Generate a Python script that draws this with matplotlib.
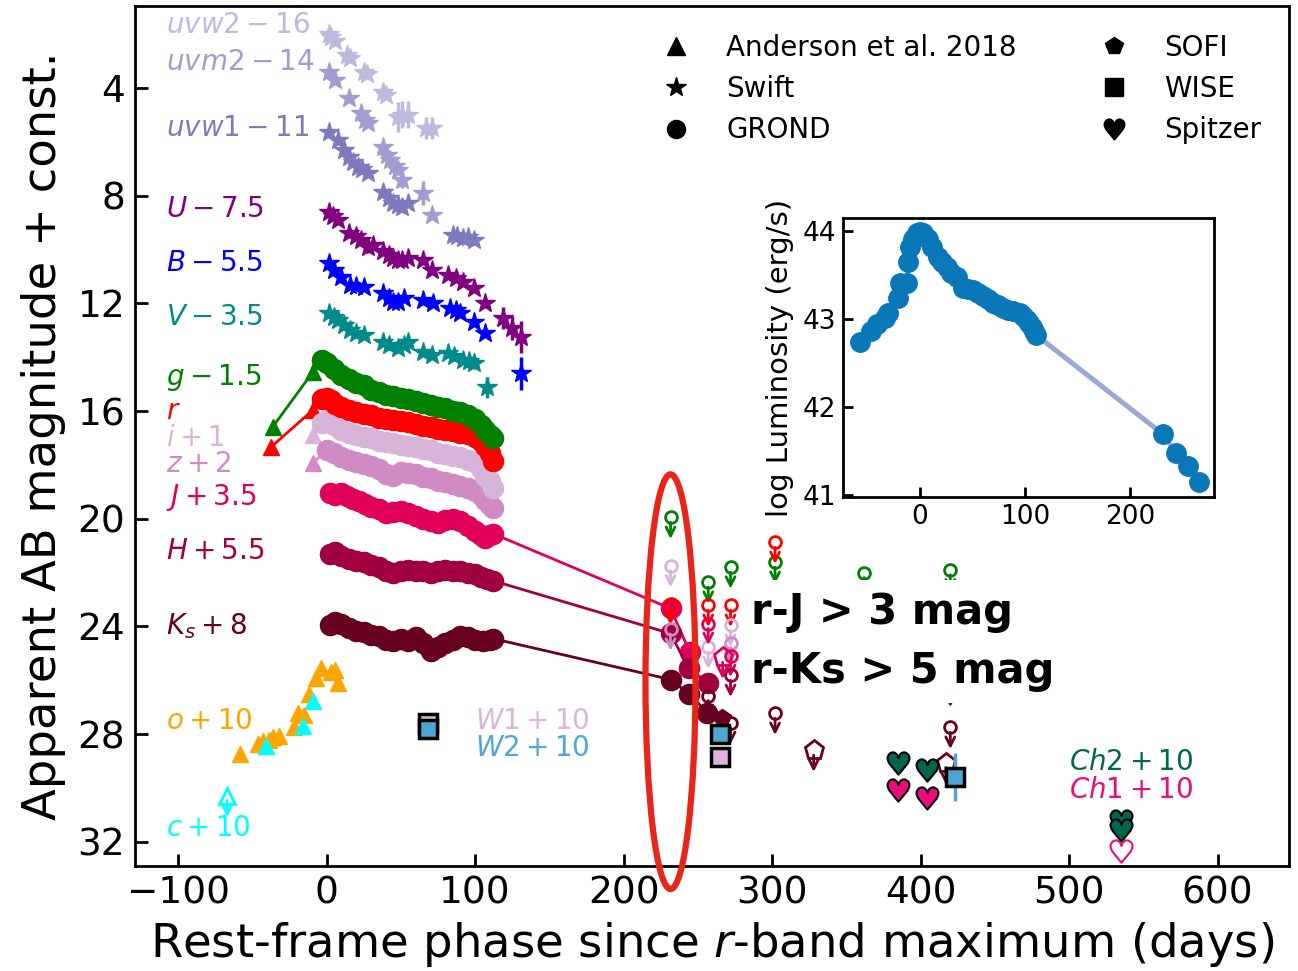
import matplotlib
matplotlib.use("Agg")
import matplotlib.pyplot as plt
from matplotlib.lines import Line2D
from matplotlib.patches import Ellipse
import numpy as np

plt.rcParams['font.family'] = ['DejaVu Sans']
plt.rcParams['mathtext.fontset'] = 'dejavusans'

HEART = '$\u2665$'

# ---------------- data (phase in days, magnitude + offset) ----------------
# Swift UV / optical (stars)
uvw2_t = [1.3, 2.7, 6, 14, 16, 25, 27, 38, 40, 48, 51, 55, 67, 71]
uvw2_m = [2.0, 2.1, 2.25, 2.77, 2.9, 3.4, 3.5, 4.15, 4.25, 5.08, 5.0, 5.0, 5.49, 5.49]
uvw2_e = [0, 0, 0, 0, 0, 0, 0, 0, 0, 0.55, 0.5, 0.5, 0.4, 0.4]

uvm2_t = [1.3, 6, 15, 23, 26, 28, 38, 41, 43, 46, 48, 51, 65, 71]
uvm2_m = [3.41, 3.70, 4.37, 4.93, 5.2, 5.30, 6.19, 6.5, 6.68, 6.9, 7.05, 7.42, 7.90, 8.72]
uvm2_e = [0, 0, 0, 0, 0, 0, 0, 0, 0, 0, 0, 0.3, 0.45, 0]

uvw1_t = [1.3, 7.4, 12, 15, 18, 21, 24, 28, 38, 42, 45, 48, 51, 55, 85, 88, 92, 95, 99]
uvw1_m = [5.64, 5.93, 6.3, 6.57, 6.75, 6.94, 7.0, 7.16, 7.87, 8.1, 8.28, 8.35, 8.42, 8.28, 9.46, 9.5, 9.58, 9.55, 9.65]

U_t = [1.3, 4, 7.4, 15, 20, 23, 28, 31, 38, 42, 45, 48, 51, 55, 65, 71, 82, 87, 92, 99, 107, 119, 125, 131]
U_m = [8.61, 8.75, 8.91, 9.39, 9.5, 9.65, 9.91, 9.85, 10.06, 10.2, 10.3, 10.39, 10.4, 10.32, 10.39, 10.77, 10.95, 11.05, 11.21, 11.43, 11.99, 12.55, 12.92, 13.26]
U_e = [0] * 21 + [0.4, 0.45, 0.6]

B_t = [1.3, 5, 9.4, 16, 20, 25, 38, 42, 45, 48, 52, 65, 72, 83, 87, 90, 99, 107, 131]
B_m = [10.51, 10.75, 11.03, 11.32, 11.35, 11.40, 11.62, 11.8, 11.96, 11.95, 11.81, 11.88, 11.99, 12.18, 12.25, 12.36, 12.70, 13.11, 14.60]
B_e = [0] * 18 + [0.6]

V_t = [1.3, 5, 7.4, 12, 16, 20, 25, 38, 42, 48, 52, 55, 65, 71, 82, 86, 92, 96, 99, 108]
V_m = [12.36, 12.5, 12.62, 12.8, 13.00, 13.1, 13.18, 13.44, 13.55, 13.67, 13.55, 13.44, 13.81, 13.93, 13.85, 13.95, 14.11, 14.15, 14.22, 15.12]
V_e = [0] * 19 + [0.4]

# Anderson et al. 2018 (triangles)
g_and_t = [-36.4, -9.4, -5]
g_and_m = [16.6, 14.56, 14.1]
r_and_t = [-37.7, -9.4]
r_and_m = [17.35, 15.97]
i_and_t = [-9.4]
i_and_m = [16.9]
z_and_t = [-9.4]
z_and_m = [17.94]
o_t = [-58, -46.5, -42.5, -39, -36, -32, -22, -19, -15.5, -12, -7.4, -4, 2.7, 6, 8]
o_m = [28.72, 28.35, 28.25, 28.2, 28.1, 28.05, 27.75, 27.2, 27.3, 26.49, 25.93, 25.56, 25.7, 25.6, 26.1]
c_t = [-41, -16, -9.4]
c_m = [28.42, 27.68, 26.75]
c_lim_t = [-67]
c_lim_m = [30.28]

# GROND (circles)
g_t = [-3, 0, 5, 10, 15, 20, 25, 30, 35, 40, 45, 50, 55, 60, 65, 70, 75, 80, 85, 90, 95, 100, 104, 107, 110, 112]
g_m = [14.1, 14.2, 14.45, 14.65, 14.8, 14.95, 15.05, 15.2, 15.3, 15.4, 15.45, 15.5, 15.55, 15.62, 15.7, 15.78,
       15.85, 15.9, 16.0, 16.05, 16.15, 16.3, 16.5, 16.7, 16.9, 17.0]
r_t = [-3, 0, 3, 6, 10, 15, 20, 25, 30, 35, 40, 45, 50, 55, 60, 65, 70, 75, 80, 85, 90, 95, 100, 104, 107, 110, 112]
r_m = [15.55, 15.5, 15.6, 15.75, 15.85, 15.95, 16.05, 16.1, 16.15, 16.25, 16.3, 16.33, 16.37, 16.42, 16.47, 16.55,
       16.6, 16.65, 16.7, 16.75, 16.8, 16.85, 16.95, 17.1, 17.3, 17.55, 17.85]
i_t = [-3, 0, 5, 10, 15, 20, 25, 30, 35, 40, 45, 50, 55, 60, 65, 70, 75, 80, 85, 90, 95, 100, 104, 107, 110, 112]
i_m = [16.45, 16.35, 16.5, 16.7, 16.8, 16.9, 16.95, 17.0, 17.1, 17.15, 17.2, 17.25, 17.3, 17.35, 17.4, 17.45, 17.55,
       17.6, 17.65, 17.72, 17.8, 17.9, 18.1, 18.4, 18.6, 18.85]
z_t = [0, 5, 10, 15, 20, 25, 30, 35, 40, 45, 50, 55, 60, 65, 70, 75, 80, 85, 90, 95, 100, 104, 107, 110, 112]
z_m = [17.45, 17.55, 17.7, 17.8, 17.9, 17.95, 18.05, 18.15, 18.35, 18.4, 18.25, 18.3, 18.35, 18.45, 18.5, 18.6,
       18.65, 18.7, 18.8, 18.85, 18.95, 19.1, 19.3, 19.5, 19.6]
J_t = [2, 6, 10, 14, 18, 22, 26, 30, 35, 40, 45, 50, 55, 60, 65, 70, 75, 80, 85, 90, 95, 100, 104, 107, 110, 112, 231.6, 244.4]
J_m = [19.05, 19.1, 19.05, 19.15, 19.25, 19.35, 19.45, 19.55, 19.65, 19.8, 19.75, 19.7, 19.8, 19.9, 20.0, 20.1,
       20.15, 20.05, 20.0, 20.1, 20.25, 20.45, 20.6, 20.7, 20.6, 20.55, 23.33, 24.93]
H_t = [2, 6, 10, 15, 20, 25, 30, 35, 40, 45, 50, 55, 60, 65, 70, 75, 80, 85, 90, 95, 100, 104, 108, 112, 231.6, 243.8, 257]
H_m = [21.3, 21.25, 21.4, 21.5, 21.55, 21.6, 21.7, 21.8, 21.95, 22.0, 21.95, 21.9, 21.95, 21.95, 22.0, 21.95, 21.9,
       21.95, 21.95, 22.0, 22.05, 22.15, 22.25, 22.3, 24.26, 25.56, 26.1]
Ks_t = [2, 6, 10, 15, 20, 25, 30, 35, 40, 45, 50, 55, 60, 65, 70, 75, 80, 85, 90, 95, 100, 105, 110, 112, 231.6, 244, 256.5]
Ks_m = [23.95, 23.85, 23.9, 24.05, 24.15, 24.2, 24.3, 24.35, 24.5, 24.55, 24.45, 24.55, 24.4, 24.6, 24.9, 24.75, 24.6,
        24.5, 24.35, 24.4, 24.5, 24.55, 24.5, 24.45, 25.97, 26.5, 27.2]

# GROND upper limits (open circles)
g_lim_t = [231.6, 257, 272, 302, 362, 420]
g_lim_m = [19.95, 22.36, 21.8, 21.62, 22.0, 21.9]
r_lim_t = [231.6, 257, 272, 302]
r_lim_m = [23.15, 23.22, 23.22, 20.88]
i_lim_t = [231.6, 257, 272]
i_lim_m = [21.75, 24.78, 23.96]
z_lim_t = [231.6, 272]
z_lim_m = [24.1, 24.6]
J_lim_t = [257, 272]
J_lim_m = [23.89, 25.08]
H_lim_t = [272, 420]
H_lim_m = [25.82, 26.2]
Ks_lim_t = [257, 272, 302, 420]
Ks_lim_m = [26.57, 27.57, 27.23, 27.75]

# SOFI (pentagons)
sofi_Ks_t = [266]
sofi_Ks_m = [27.4]
sofi_J_lim_t = [266.7]
sofi_J_lim_m = [25.15]
sofi_Ks_lim_t = [328, 417]
sofi_Ks_lim_m = [28.6, 29.06]

# WISE (squares)
W1_t = [68, 264.6]
W1_m = [27.57, 28.83]
W1_e = [0, 0.3]
W2_t = [68, 264.6, 423]
W2_m = [27.8, 27.98, 29.58]
W2_e = [0, 0, 0.9]

# Spitzer (hearts)
Ch2_t = [384.5, 404, 535, 535]
Ch2_m = [29.06, 29.32, 31.21, 31.55]
Ch1_t = [384.5, 404]
Ch1_m = [30.06, 30.36]
Ch1_lim_t = [535]
Ch1_lim_m = [32.33]

# bolometric light curve (inset)
L_t = [-57, -46, -41, -33, -30, -21, -19, -12, -11.4, -9.5, -6.7, -2.9, 0, 2.9, 7.6, 12, 17, 21, 25.7, 30, 35, 41,
       46, 50.5, 55, 60, 65, 69.5, 74, 79, 84, 88.6, 95, 98, 102, 104, 106.7, 109, 111, 231, 244, 255, 266]
L_v = [42.73, 42.86, 42.94, 43.01, 43.06, 43.23, 43.40, 43.40, 43.64, 43.81, 43.90, 43.97, 43.98, 43.97, 43.90,
       43.81, 43.70, 43.64, 43.58, 43.52, 43.47, 43.35, 43.34, 43.32, 43.29, 43.26, 43.22, 43.18, 43.15, 43.12, 43.1,
       43.09, 43.06, 43.03, 42.98, 42.95, 42.90, 42.86, 42.81, 41.69, 41.47, 41.32, 41.14]

# labels
band_labels = [r'$uvw2-16$', r'$uvm2-14$', r'$uvw1-11$', r'$U-7.5$', r'$B-5.5$', r'$V-3.5$', r'$g-1.5$', r'$r$',
               r'$i+1$', r'$z+2$', r'$J+3.5$', r'$H+5.5$', r'$K_s+8$', r'$o+10$', r'$c+10$']
band_label_m = [1.66, 3.03, 5.5, 8.5, 10.5, 12.5, 14.75, 16.0, 17.0, 17.95, 19.2, 21.2, 24.0, 27.5, 31.5]

legend_labels = ['Anderson et al. 2018', 'Swift', 'GROND', 'SOFI', 'WISE', 'Spitzer']

# colours
C = dict(uvw2='#bcbadd', uvm2='#a19dd0', uvw1='#7d7bbd', U='#800080', B='#0000ff', V='#008b8b', g='#008000',
         r='#ff0000', i='#d9b4d9', z='#d08ac4', J='#e0005a', H='#a0003f', Ks='#68001f', o='#ffa500', c='#00ffff',
         W1='#dcb4dc', W2='#4fa6d3', Ch2='#00664f', Ch1='#ec0c7b')
band_label_colors = [C[k] for k in ['uvw2', 'uvm2', 'uvw1', 'U', 'B', 'V', 'g', 'r', 'i', 'z', 'J', 'H', 'Ks', 'o', 'c']]

# ---------------- figure ----------------
fig = plt.figure(figsize=(12.98, 9.71), dpi=100)
ax = fig.add_axes([0.104, 0.108, 0.889, 0.886])

STAR_MS = 15
DOT_MS = 14.5
TRI_MS = 11


def stars(t, m, c, e=None):
    if e is not None:
        ax.errorbar(t, m, yerr=e, fmt='none', ecolor=c, elinewidth=2.5, capsize=0, zorder=3)
    ax.plot(t, m, ls='none', marker='*', ms=STAR_MS, color=c, zorder=4)


def ulim(t, m, c, marker='o', ms=8.5):
    for tt, mm in zip(t, m):
        ax.annotate('', xy=(tt, mm + 0.8), xytext=(tt, mm + 0.18),
                    arrowprops=dict(arrowstyle='->', color=c, lw=2, mutation_scale=16,
                                    shrinkA=0, shrinkB=0), zorder=5)
    ax.plot(t, m, ls='none', marker=marker, ms=ms, mfc='none', mec=c, mew=2, zorder=5)


stars(uvw2_t, uvw2_m, C['uvw2'], uvw2_e)
stars(uvm2_t, uvm2_m, C['uvm2'], uvm2_e)
stars(uvw1_t, uvw1_m, C['uvw1'])
stars(U_t, U_m, C['U'], U_e)
stars(B_t, B_m, C['B'], B_e)
stars(V_t, V_m, C['V'], V_e)

# GROND + Anderson, connected
for key, at, am, gt, gm in [('g', g_and_t, g_and_m, g_t, g_m), ('r', r_and_t, r_and_m, r_t, r_m),
                            ('i', i_and_t, i_and_m, i_t, i_m), ('z', z_and_t, z_and_m, z_t, z_m)]:
    ax.plot(at + gt, am + gm, color=C[key], lw=2, zorder=2)
    ax.plot(at, am, ls='none', marker='^', ms=TRI_MS, color=C[key], zorder=3)

for key, gt, gm in [('z', z_t, z_m), ('i', i_t, i_m), ('r', r_t, r_m), ('g', g_t, g_m),
                    ('J', J_t, J_m), ('H', H_t, H_m), ('Ks', Ks_t, Ks_m)]:
    ax.plot(gt, gm, color=C[key], lw=2, marker='o', ms=DOT_MS, zorder=3)

ax.plot(o_t, o_m, ls='none', marker='^', ms=TRI_MS, color=C['o'], zorder=3)
ax.plot(c_t, c_m, ls='none', marker='^', ms=TRI_MS, color=C['c'], zorder=3)
ulim(c_lim_t, c_lim_m, C['c'], marker='^', ms=11)

ulim(g_lim_t, g_lim_m, C['g'])
ulim(r_lim_t, r_lim_m, C['r'])
ulim(i_lim_t, i_lim_m, C['i'])
ulim(z_lim_t, z_lim_m, C['z'])
ulim(J_lim_t, J_lim_m, C['J'])
ulim(H_lim_t, H_lim_m, C['H'])
ulim(Ks_lim_t, Ks_lim_m, C['Ks'])

ax.plot(sofi_Ks_t, sofi_Ks_m, ls='none', marker='p', ms=13, color=C['Ks'], zorder=3)
ulim(sofi_J_lim_t, sofi_J_lim_m, C['J'], marker='p', ms=14)
ulim(sofi_Ks_lim_t, sofi_Ks_lim_m, C['Ks'], marker='p', ms=14)

ax.errorbar(W1_t, W1_m, yerr=W1_e, fmt='s', ms=13, mfc=C['W1'], mec='black', mew=2.5, ecolor=C['W1'],
            elinewidth=2.5, capsize=0, zorder=6)
ax.errorbar(W2_t, W2_m, yerr=W2_e, fmt='s', ms=13, mfc=C['W2'], mec='black', mew=2.5, ecolor=C['W2'],
            elinewidth=2.5, capsize=0, zorder=6)

HEART_MS = 16
ax.plot(Ch2_t, Ch2_m, ls='none', marker=HEART, ms=HEART_MS, mfc=C['Ch2'], mec='black', mew=1.5, zorder=6)
ax.plot(Ch1_t, Ch1_m, ls='none', marker=HEART, ms=HEART_MS, mfc=C['Ch1'], mec='black', mew=1.5, zorder=6)
ax.plot(Ch1_lim_t, Ch1_lim_m, ls='none', marker=HEART, ms=HEART_MS, mfc='white', mec=C['Ch1'], mew=1.5, zorder=6)

# band labels
for lab, mm, col in zip(band_labels, band_label_m, band_label_colors):
    ax.text(-108, mm, lab, color=col, fontsize=20, ha='left', va='center')
ax.text(100, 27.5, r'$W1+10$', color=C['W1'], fontsize=20, ha='left', va='center')
ax.text(100, 28.5, r'$W2+10$', color=C['W2'], fontsize=20, ha='left', va='center')
ax.text(500, 29.05, r'$Ch2+10$', color=C['Ch2'], fontsize=20, ha='left', va='center')
ax.text(500, 30.06, r'$Ch1+10$', color=C['Ch1'], fontsize=20, ha='left', va='center')

# colour statements
ax.text(285.5, 23.48, 'r-J > 3 mag', fontsize=30, fontweight='bold', ha='left', va='center',
        bbox=dict(fc='white', ec='none', pad=8), zorder=25)
ax.text(285.5, 25.64, 'r-Ks > 5 mag', fontsize=30, fontweight='bold', ha='left', va='center',
        bbox=dict(fc='white', ec='none', pad=8), zorder=25)

ax.add_patch(Ellipse((231.6, 26.05), width=33.7, height=15.4, fill=False, ec='#e8251b', lw=4.5,
                     clip_on=False, zorder=30))

ax.set_xlim(-129, 648)
ax.set_ylim(32.9, 0.95)
ax.set_xticks([-100, 0, 100, 200, 300, 400, 500, 600])
ax.set_yticks([4, 8, 12, 16, 20, 24, 28, 32])
ax.tick_params(direction='in', length=9, width=2, labelsize=27, pad=7)
for s in ax.spines.values():
    s.set_linewidth(2)
ax.set_xlabel(r'Rest-frame phase since $r$-band maximum (days)', fontsize=33.5, labelpad=6)
ax.set_ylabel('Apparent AB magnitude + const.', fontsize=33.5, labelpad=8)

# legend
markers = ['^', '*', 'o', 'p', 's', HEART]
handles = [Line2D([], [], ls='none', marker=mk, color='black', ms=(15 if mk in (HEART, '*') else 13))
           for mk in markers]
ax.legend(handles, legend_labels, ncol=2, loc='upper right', bbox_to_anchor=(1.0, 1.0), frameon=False,
          fontsize=20, handlelength=1.0, handletextpad=1.3, columnspacing=3.0, labelspacing=0.48,
          borderaxespad=0.6)

# inset
ins = fig.add_axes([0.6495, 0.488, 0.2858, 0.2873])
ins.plot(L_t, L_v, color='#9aa8d4', lw=3.6, zorder=1)
ins.plot(L_t, L_v, ls='none', marker='o', ms=14, color='#0a78b8', zorder=2)
ins.set_xlim(-73, 280)
ins.set_ylim(40.97, 44.14)
ins.set_xticks([0, 100, 200])
ins.set_yticks([41, 42, 43, 44])
ins.tick_params(direction='in', length=7, width=2, labelsize=19, pad=5)
for s in ins.spines.values():
    s.set_linewidth(2)
ins.set_ylabel('log Luminosity (erg/s)', fontsize=21, labelpad=6)

fig.savefig('out.png', dpi=100)
